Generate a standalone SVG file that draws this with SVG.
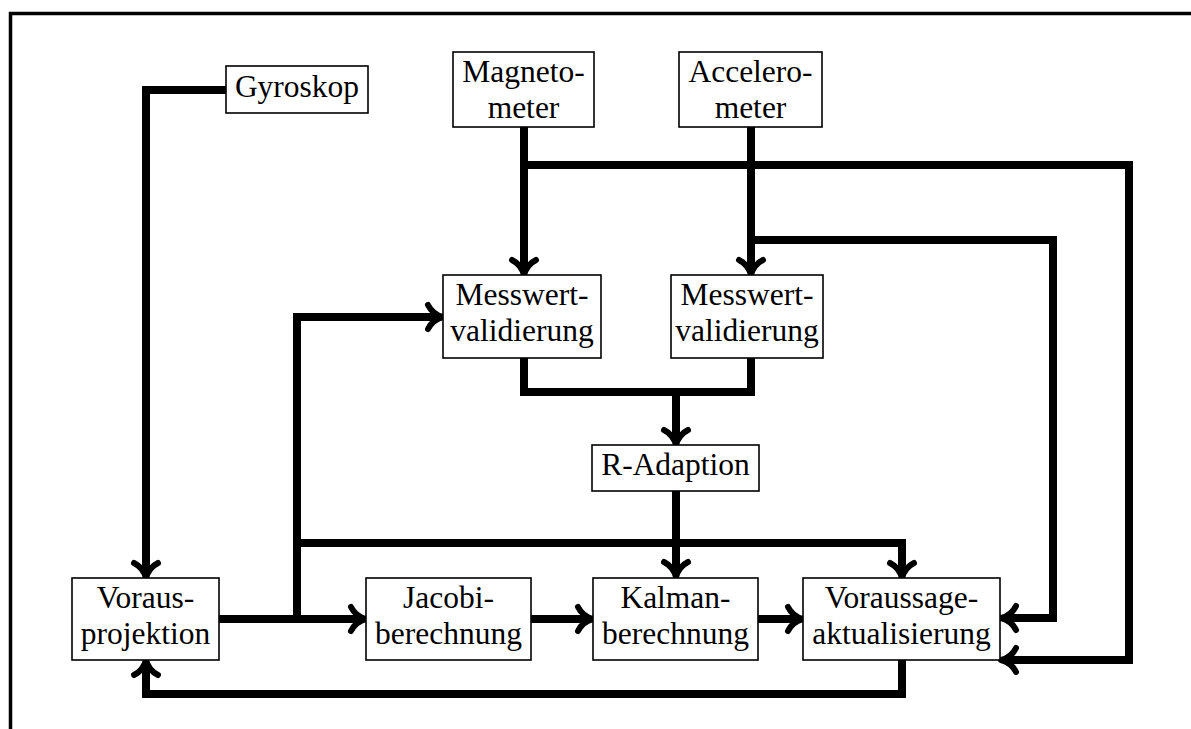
<svg xmlns="http://www.w3.org/2000/svg" width="1191" height="729" viewBox="0 0 1191 729">
<style>
.box{fill:#fff;stroke:#000;stroke-width:1.6}
.t{font-family:"Liberation Serif","Times New Roman",serif;font-size:31.5px;fill:#000;text-anchor:middle}
.c{fill:none;stroke:#000;stroke-width:8;stroke-linejoin:miter;stroke-linecap:butt}
.frame{fill:none;stroke:#000;stroke-width:3.5}
</style>
<defs>
<marker id="ah" markerUnits="userSpaceOnUse" markerWidth="40" markerHeight="40" viewBox="-20 -20 40 40" refX="0" refY="0" orient="auto" overflow="visible">
<path d="M -12,-12 C -8,-4 -1,-1 3,0 C -1,1 -8,4 -12,12" fill="none" stroke="#000" stroke-width="6" stroke-linecap="round" stroke-linejoin="round"/>
</marker>
</defs>
<rect width="1191" height="729" fill="#fff"/>
<path class="frame" d="M 10.5,729 L 10.5,13.5 L 1191,13.5"/>
<g id="connectors">
<path class="c" d="M 226,90 H 146 V 575" marker-end="url(#ah)"/>
<path class="c" d="M 524,127 V 272" marker-end="url(#ah)"/>
<path class="c" d="M 751,127 V 272" marker-end="url(#ah)"/>
<path class="c" d="M 524,165 H 1129 V 660 H 1004" marker-end="url(#ah)"/>
<path class="c" d="M 751,240 H 1053 V 618 H 1004" marker-end="url(#ah)"/>
<path class="c" d="M 524,358 V 392 H 751 V 358"/>
<path class="c" d="M 676,392 V 442" marker-end="url(#ah)"/>
<path class="c" d="M 676,491 V 574" marker-end="url(#ah)"/>
<path class="c" d="M 219,619 H 363" marker-end="url(#ah)"/>
<path class="c" d="M 297,619 V 317 H 440" marker-end="url(#ah)"/>
<path class="c" d="M 297,543 H 902 V 575" marker-end="url(#ah)"/>
<path class="c" d="M 531,619 H 590" marker-end="url(#ah)"/>
<path class="c" d="M 758,619 H 800" marker-end="url(#ah)"/>
<path class="c" d="M 902,660 V 694 H 146 V 663" marker-end="url(#ah)"/>
</g>
<g id="gyroskop"><rect class="box" x="226" y="66" width="142" height="47"/><text class="t" x="297" y="97">Gyroskop</text></g>
<g id="magnetometer"><rect class="box" x="453" y="52" width="141" height="75"/><text class="t" x="523.5" y="82">Magneto-</text><text class="t" x="523.5" y="118">meter</text></g>
<g id="accelerometer"><rect class="box" x="679" y="52" width="143" height="75"/><text class="t" x="750.5" y="82">Accelero-</text><text class="t" x="750.5" y="118">meter</text></g>
<g id="messwert1"><rect class="box" x="443" y="275" width="158" height="83"/><text class="t" x="522" y="305">Messwert-</text><text class="t" x="522" y="341">validierung</text></g>
<g id="messwert2"><rect class="box" x="671" y="275" width="152" height="83"/><text class="t" x="747" y="305">Messwert-</text><text class="t" x="747" y="341">validierung</text></g>
<g id="radaption"><rect class="box" x="592" y="445" width="167" height="46"/><text class="t" x="675.5" y="475">R-Adaption</text></g>
<g id="vorausprojektion"><rect class="box" x="72" y="578" width="147" height="82"/><text class="t" x="145.5" y="608">Voraus-</text><text class="t" x="145.5" y="644">projektion</text></g>
<g id="jacobi"><rect class="box" x="366" y="578" width="165" height="82"/><text class="t" x="448.5" y="608">Jacobi-</text><text class="t" x="448.5" y="644">berechnung</text></g>
<g id="kalman"><rect class="box" x="593" y="578" width="165" height="82"/><text class="t" x="675.5" y="608">Kalman-</text><text class="t" x="675.5" y="644">berechnung</text></g>
<g id="voraussage"><rect class="box" x="803" y="578" width="197" height="82"/><text class="t" x="901.5" y="608">Voraussage-</text><text class="t" x="901.5" y="644">aktualisierung</text></g>
</svg>
